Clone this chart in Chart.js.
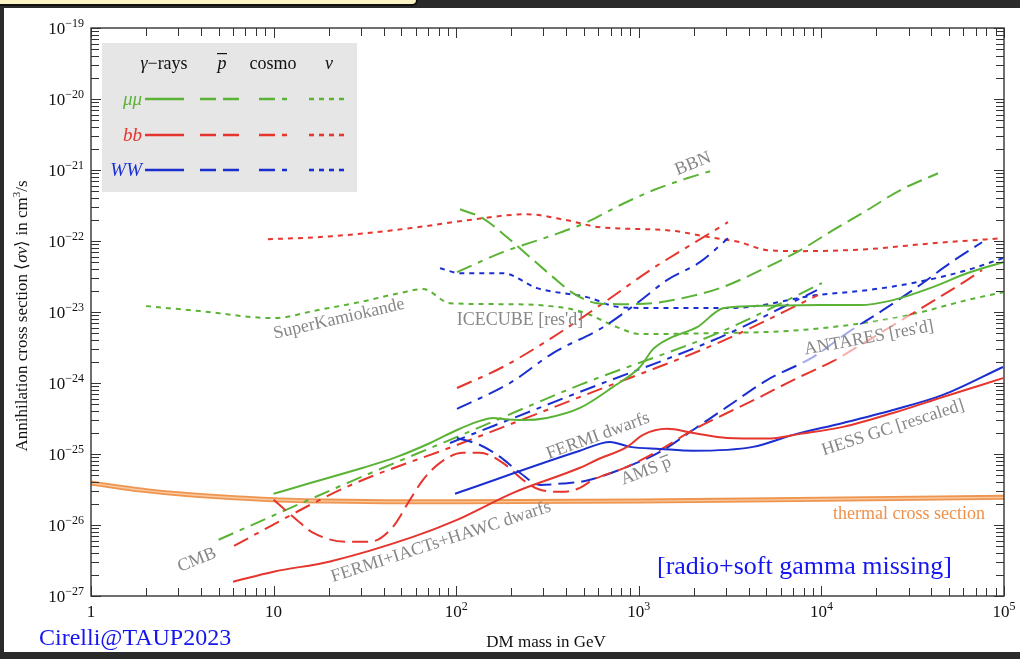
<!DOCTYPE html>
<html>
<head>
<meta charset="utf-8">
<script src="https://cdn.jsdelivr.net/npm/chart.js@4.4.0/dist/chart.umd.min.js"></script>
<style>
  html, body { margin: 0; padding: 0; width: 1020px; height: 659px; overflow: hidden; background: #2a2a2a; }
  #tab { position: absolute; left: 0; top: 0; width: 416px; height: 4px; background: #fbf3c4;
         border-bottom: 2px solid #111; border-right: 2px solid #111; border-bottom-right-radius: 8px; }
  #panel { position: absolute; left: 4px; top: 8px; width: 1016px; height: 644px; background: #fff; }
  #wrap { position: absolute; left: 0; top: 0; width: 1020px; height: 659px; }
</style>
</head>
<body>
<div id="tab"></div>
<div id="panel"></div>
<div id="wrap"><canvas id="c" width="1020" height="659"></canvas></div>
<script>
// DM mass [GeV] vs annihilation cross section [cm^3/s]

// thermal relic cross section
const thermal = [[1,3.9e-26],[1.5,3.35e-26],[2,3.05e-26],[3,2.75e-26],[5,2.5e-26],[10,2.27e-26],[20,2.17e-26],[50,2.12e-26],[100,2.12e-26],[1000,2.17e-26],[1e4,2.3e-26],[1e5,2.45e-26]];

// gamma rays (solid)
const gammaMuMu = [[10,2.75e-26],[16.4,4.0e-26],[30.9,6.4e-26],[47.3,9.1e-26],[72,1.43e-25],[101,2.18e-25],[130,2.83e-25],[159,3.22e-25],[180,3.1e-25],[232,3.0e-25],[314,3.22e-25],[476,4.45e-25],[722,8.8e-25],[1015,1.68e-24],[1197,3.0e-24],[1483,4.3e-24],[2085,6.1e-24],[2893,1.13e-23],[4220,1.21e-23],[9820,1.25e-23],[16260,1.25e-23],[24650,1.47e-23],[40800,2.24e-23],[62700,3.52e-23],[98700,5.03e-23]];
const gammaBB = [[6,1.59e-27],[10,2.2e-27],[20.4,3.07e-27],[58,6.8e-27],[101,1.18e-26],[205,2.84e-26],[476,6.4e-26],[590,8.3e-26],[862,1.26e-25],[1054,1.86e-25],[1427,2.26e-25],[1980,1.98e-25],[3040,1.68e-25],[5040,1.65e-25],[7640,1.92e-25],[13130,2.41e-25],[24660,3.78e-25],[46300,6.35e-25],[98700,1.17e-24]];
const gammaWW = [[98.5,2.75e-26],[476,1.11e-25],[696,1.48e-25],[895,1.26e-25],[1306,1.18e-25],[1980,1.11e-25],[4220,1.26e-25],[7000,1.86e-25],[13130,2.74e-25],[24660,4.17e-25],[46300,6.8e-25],[98700,1.68e-24]];

// antiprotons (dashed)
const pbarMuMu = [[105,2.8e-22],[140,2.09e-22],[190,1.13e-22],[254,5.9e-23],[339,3.1e-23],[436,1.85e-23],[590,1.33e-23],[788,1.29e-23],[1197,1.33e-23],[1836,1.62e-23],[2785,2.17e-23],[5040,4.28e-23],[7640,7.4e-23],[11580,1.42e-22],[17770,2.71e-22],[26950,5.18e-22],[43500,9.0e-22]];
const pbarBB = [[10,2.26e-26],[13.4,1.18e-26],[16.4,7.8e-27],[25.2,5.8e-27],[33.7,5.8e-27],[45,9.4e-27],[55.8,2.26e-26],[65.8,4.32e-26],[81.5,7.5e-26],[109,1.04e-25],[135,1.04e-25],[180,7.5e-26],[232,4.32e-26],[288,3.13e-26],[385,2.93e-26],[476,3.34e-26],[561,4.32e-26],[862,6.6e-26],[1306,1.14e-25],[1980,2.18e-25],[3040,3.78e-25],[4610,6.35e-25],[7000,1.1e-24],[11580,2.04e-24],[17770,3.9e-24],[26950,7.45e-24],[40800,1.42e-23],[62700,2.81e-23],[75800,3.88e-23]];
const pbarWW = [[101,1.68e-25],[135,1.34e-25],[174,9.1e-26],[224,5.4e-26],[288,3.67e-26],[385,3.85e-26],[476,4.05e-26],[561,4.45e-26],[862,6.6e-26],[1306,1.07e-25],[1980,2.18e-25],[3040,4.6e-25],[5040,1.1e-24],[9000,2.32e-24],[13800,5.05e-24],[21700,1.06e-23],[33400,2.24e-23],[50600,4.87e-23],[75800,9.6e-23]];

// cosmology (dash-dot): CMB and BBN
const cmbMuMu = [[5,6.2e-27],[26.2,4.05e-26],[101,1.74e-25],[476,9.4e-25],[2785,5.2e-24],[10070,2.55e-23]];
const cmbBB = [[6.07,5.1e-27],[25.2,3.45e-26],[101,1.34e-25],[476,6.35e-25],[2785,3.77e-24],[9580,1.73e-23]];
const cmbWW = [[92.5,1.43e-25],[476,7.5e-25],[2785,4.4e-24],[9460,2.03e-23]];
const bbnMuMu = [[101,3.64e-23],[180,6.96e-23],[339,1.21e-22],[520,1.84e-22],[788,3.19e-22],[1197,5.18e-22],[1836,7.64e-22],[2550,9.9e-22]];
const bbnBB = [[101,8.5e-25],[180,1.68e-24],[339,4.44e-24],[637,1.33e-23],[1197,4.14e-23],[1836,8.18e-23],[3080,1.84e-22]];
const bbnWW = [[101,4.31e-25],[197,1.0e-24],[339,2.64e-24],[637,6.1e-24],[977,1.33e-23],[1427,2.81e-23],[2160,5.03e-23],[3080,1.09e-22]];

// neutrinos (dotted)
const nuMuMu = [[2,1.21e-23],[3.95,1.03e-23],[10,8.2e-24],[17.3,1.06e-23],[29.7,1.38e-23],[49.2,1.85e-23],[65.8,2.1e-23],[92.5,1.33e-23],[174,1.29e-23],[327,1.21e-23],[494,9.97e-24],[760,6.13e-24],[1015,4.89e-24],[2160,5.0e-24],[7640,5.56e-24],[26950,8.5e-24],[62700,1.47e-23],[98700,1.9e-23]];
const nuBB = [[9.31,1.06e-22],[17.3,1.13e-22],[32.5,1.29e-22],[61,1.56e-22],[115,1.96e-22],[244,2.38e-22],[404,1.96e-22],[613,1.56e-22],[1427,1.42e-22],[2455,1.13e-22],[3585,9.6e-23],[5040,7.43e-23],[7640,7.2e-23],[17770,7.67e-23],[40800,9.3e-23],[95100,1.09e-22]];
const nuWW = [[81.5,4.14e-23],[105,3.52e-23],[180,3.52e-23],[277,2.17e-23],[520,1.62e-23],[788,1.17e-23],[1197,1.14e-23],[3280,1.14e-23],[9460,1.73e-23],[17770,2.03e-23],[33400,2.63e-23],[62700,3.88e-23],[98700,5.73e-23]];

// axis decades and legend headings
const xDecades = [0, 1, 2, 3, 4, 5];
const yDecades = [-27, -26, -25, -24, -23, -22, -21, -20, -19];
const probeNames = ['γ−rays', 'p', 'cosmo', 'ν'];
const channelNames = ['μμ', 'bb', 'WW'];

const GREEN = '#5bb336', RED = '#e5352c', BLUE = '#1b2fd0';
const ORANGE_EDGE = '#ee9550', ORANGE_CORE = '#f9c9a0';
const SERIF = '"Liberation Serif", "Times New Roman", serif';
const DASH = { solid: [], dashed: [16, 7], dashdot: [16, 7, 5, 7], dotted: [5, 5] };

function series(points, color, dash, width, order) {
  return {
    data: points.map(([m, s]) => ({ x: m, y: s })),
    borderColor: color, borderWidth: width, borderDash: dash,
    pointRadius: 0, fill: false, cubicInterpolationMode: 'monotone', order: order
  };
}

const datasets = [
  series(thermal, ORANGE_EDGE, [], 5, 20),
  series(thermal, ORANGE_CORE, [], 1.4, 19),
  series(nuMuMu, GREEN, DASH.dotted, 2, 10),
  series(nuBB, RED, DASH.dotted, 2, 10),
  series(nuWW, BLUE, DASH.dotted, 2, 10),
  series(cmbMuMu, GREEN, DASH.dashdot, 2, 9),
  series(cmbWW, BLUE, DASH.dashdot, 2, 9),
  series(cmbBB, RED, DASH.dashdot, 2, 9),
  series(bbnMuMu, GREEN, DASH.dashdot, 2, 9),
  series(bbnBB, RED, DASH.dashdot, 2, 9),
  series(bbnWW, BLUE, DASH.dashdot, 2, 9),
  series(pbarMuMu, GREEN, DASH.dashed, 2, 8),
  series(pbarBB, RED, DASH.dashed, 2, 8),
  series(pbarWW, BLUE, DASH.dashed, 2, 8),
  series(gammaMuMu, GREEN, DASH.solid, 2, 7),
  series(gammaBB, RED, DASH.solid, 2, 7),
  series(gammaWW, BLUE, DASH.solid, 2, 7)
];

function fontOf(size, italic) { return (italic ? 'italic ' : '') + size + 'px ' + SERIF; }

// draw a run of text pieces: [text, size, italic, raise]
function drawRuns(ctx, parts, x, y, align) {
  let total = 0;
  const widths = parts.map(p => { ctx.font = fontOf(p[1], p[2]); const w = ctx.measureText(p[0]).width; total += w; return w; });
  let sx = align === 'center' ? x - total / 2 : align === 'right' ? x - total : x;
  ctx.textAlign = 'left';
  parts.forEach((p, i) => { ctx.font = fontOf(p[1], p[2]); ctx.fillText(p[0], sx, y - (p[3] || 0)); sx += widths[i]; });
  return total;
}

function rotated(ctx, text, cx, cy, deg, size, color) {
  ctx.save();
  ctx.translate(cx, cy);
  ctx.rotate(deg * Math.PI / 180);
  ctx.fillStyle = color;
  ctx.font = fontOf(size, false);
  ctx.textAlign = 'center';
  ctx.textBaseline = 'middle';
  ctx.fillText(text, 0, 0);
  ctx.restore();
}

const frameAndLabels = {
  id: 'frameAndLabels',
  afterDatasetsDraw(chart) {
    const { ctx, chartArea: a, scales: { x, y } } = chart;
    ctx.save();

    // legend panel
    const lx = a.left + 11, ly = a.top + 15;
    ctx.fillStyle = '#e6e6e6';
    ctx.fillRect(lx, ly, 255, 149);
    ctx.fillStyle = '#111';
    ctx.textBaseline = 'alphabetic';
    const colX = [62, 120, 171, 227];
    drawRuns(ctx, [['γ', 18, true], ['−rays', 18, false]], lx + colX[0], ly + 26, 'center');
    ctx.font = fontOf(18, true);
    ctx.textAlign = 'center';
    ctx.fillText(probeNames[1], lx + colX[1], ly + 26);
    ctx.fillRect(lx + colX[1] - 5, ly + 10, 10, 1.2);
    ctx.font = fontOf(18, false);
    ctx.fillText(probeNames[2], lx + colX[2], ly + 26);
    ctx.font = fontOf(18, true);
    ctx.fillText(probeNames[3], lx + colX[3], ly + 26);

    const rowY = [56, 92, 127];
    const rowCol = [GREEN, RED, BLUE];
    const samples = [[43, 82, DASH.solid], [98, 137, DASH.dashed], [157, 186, DASH.dashdot], [207, 242, DASH.dotted]];
    channelNames.forEach((name, r) => {
      ctx.fillStyle = rowCol[r];
      ctx.font = fontOf(19, true);
      ctx.textAlign = 'right';
      ctx.fillText(name, lx + 40, ly + rowY[r] + 6);
      ctx.strokeStyle = rowCol[r];
      ctx.lineWidth = 2.6;
      samples.forEach(([s0, s1, d]) => {
        ctx.setLineDash(d);
        ctx.beginPath();
        ctx.moveTo(lx + s0, ly + rowY[r]);
        ctx.lineTo(lx + s1, ly + rowY[r]);
        ctx.stroke();
      });
    });
    ctx.setLineDash([]);

    // curve annotations
    const GREY = '#878787';
    // translucent backing behind the ANTARES tag
    ctx.save();
    ctx.translate(869, 338);
    ctx.rotate(-10.5 * Math.PI / 180);
    ctx.fillStyle = 'rgba(255,255,255,0.6)';
    ctx.fillRect(-72, -15, 144, 30);
    ctx.restore();

    rotated(ctx, 'SuperKamiokande', 339, 319, -13, 18, GREY);
    rotated(ctx, "ICECUBE [res'd]", 520, 320, 0, 18, GREY);
    rotated(ctx, 'BBN', 693, 164, -22, 18, GREY);
    rotated(ctx, "ANTARES [res'd]", 869, 338, -10.5, 18, GREY);
    rotated(ctx, 'FERMI dwarfs', 598, 436, -20, 18, GREY);
    rotated(ctx, 'HESS GC [rescaled]', 893, 428, -18, 18, GREY);
    rotated(ctx, 'CMB', 197, 560, -22, 18, GREY);
    rotated(ctx, 'FERMI+IACTs+HAWC dwarfs', 441, 542, -18, 18, GREY);
    // AMS p-bar with overline
    ctx.save();
    ctx.translate(646, 471);
    ctx.rotate(-21 * Math.PI / 180);
    ctx.fillStyle = GREY;
    ctx.textBaseline = 'middle';
    ctx.font = fontOf(18, false);
    const wA = ctx.measureText('AMS ').width, wP = ctx.measureText('p').width;
    ctx.textAlign = 'left';
    ctx.fillText('AMS ', -(wA + wP) / 2, 0);
    ctx.fillText('p', -(wA + wP) / 2 + wA, 0);
    ctx.fillRect(-(wA + wP) / 2 + wA, -8, wP, 1.2);
    ctx.restore();

    ctx.fillStyle = '#f0914a';
    ctx.font = fontOf(18, false);
    ctx.textAlign = 'right';
    ctx.textBaseline = 'alphabetic';
    ctx.fillText('thermal cross section', 985, 519);

    ctx.fillStyle = '#1515f0';
    ctx.font = fontOf(26, false);
    ctx.textAlign = 'left';
    ctx.fillText('[radio+soft gamma missing]', 657, 574);

    // frame with inward ticks
    ctx.strokeStyle = '#333';
    ctx.lineWidth = 1.4;
    ctx.strokeRect(a.left, a.top, a.right - a.left, a.bottom - a.top);
    ctx.lineWidth = 1;
    ctx.beginPath();
    xDecades.forEach(d => {
      for (let k = 1; k <= 9; k++) {
        const v = k * Number('1e' + d);
        if (v > 1e5 * 1.0001) break;
        const px = Math.round(x.getPixelForValue(v)) + 0.5;
        const len = k === 1 ? 10 : 8;
        ctx.moveTo(px, a.bottom); ctx.lineTo(px, a.bottom - len);
        ctx.moveTo(px, a.top); ctx.lineTo(px, a.top + len);
      }
    });
    yDecades.forEach(e => {
      for (let k = 1; k <= 9; k++) {
        const v = k * Number('1e' + e);
        if (v > 1e-19 * 1.0001) break;
        const py = Math.round(y.getPixelForValue(v)) + 0.5;
        const len = k === 1 ? 10 : 8;
        ctx.moveTo(a.left, py); ctx.lineTo(a.left + len, py);
        ctx.moveTo(a.right, py); ctx.lineTo(a.right - len, py);
      }
    });
    ctx.stroke();

    // tick labels
    ctx.fillStyle = '#111';
    ctx.textBaseline = 'alphabetic';
    xDecades.forEach(d => {
      const px = x.getPixelForValue(Number('1e' + d));
      const parts = d === 0 ? [['1', 17]] : d === 1 ? [['10', 17]] : [['10', 17], [String(d), 12, false, 7]];
      drawRuns(ctx, parts, px, a.bottom + 21, 'center');
    });
    yDecades.forEach(e => {
      const py = y.getPixelForValue(Number('1e' + e));
      drawRuns(ctx, [['10', 17], ['−' + String(-e), 12, false, 7]], a.left - 7, py + 6, 'right');
    });

    // axis titles
    drawRuns(ctx, [['DM mass in GeV', 17]], 546, 647, 'center');
    ctx.save();
    ctx.translate(27, 316);
    ctx.rotate(-Math.PI / 2);
    drawRuns(ctx, [['Annihilation cross section ⟨', 17], ['σv', 17, true], ['⟩ in cm', 17], ['3', 11, false, 7], ['/s', 17]], 0, 0, 'center');
    ctx.restore();

    ctx.fillStyle = '#1515f0';
    ctx.font = fontOf(24, false);
    ctx.textAlign = 'left';
    ctx.fillText('Cirelli@TAUP2023', 39, 645);

    ctx.restore();
  }
};

new Chart(document.getElementById('c'), {
  type: 'line',
  data: { datasets },
  options: {
    responsive: false,
    animation: false,
    layout: { padding: { left: 91, right: 16, top: 28, bottom: 63 } },
    scales: {
      x: { type: 'logarithmic', min: 1, max: 1e5, display: false },
      y: { type: 'logarithmic', min: 1e-27, max: 1e-19, display: false }
    },
    plugins: { legend: { display: false }, tooltip: { enabled: false } }
  },
  plugins: [frameAndLabels]
});
</script>
</body>
</html>
